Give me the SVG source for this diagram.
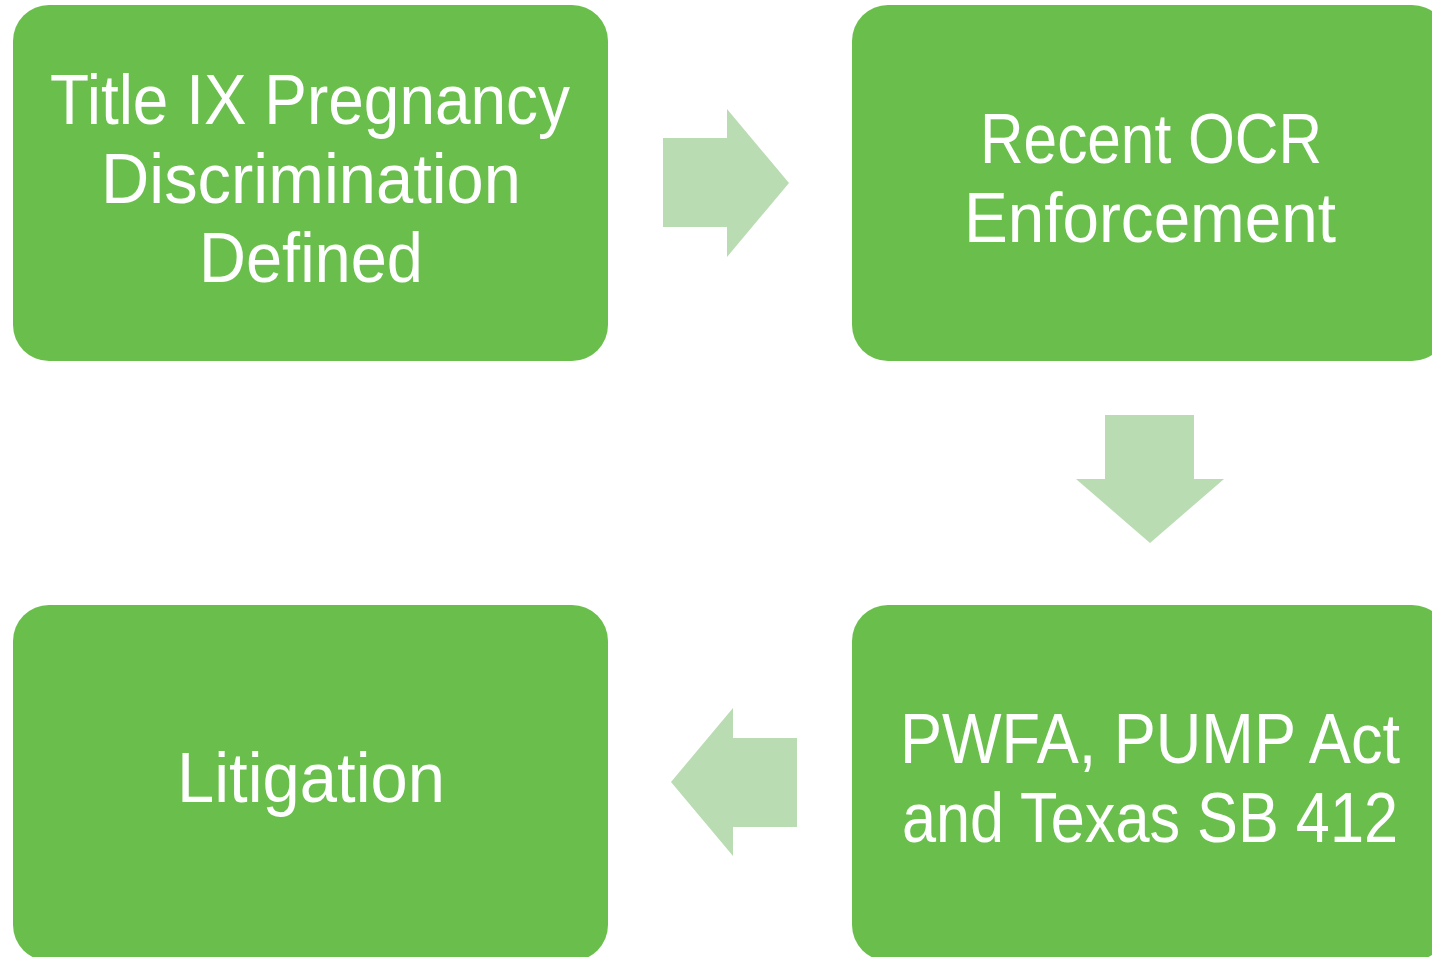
<svg xmlns="http://www.w3.org/2000/svg" width="1432" height="957" viewBox="0 0 1432 957">
<style>
.box{fill:#6ABF4C}
.arrow{fill:#BADCB3}
.lbl{font-family:"Liberation Sans",Arial,sans-serif;font-size:70px;fill:#FFFFFF;text-anchor:middle}
</style>
<rect width="1432" height="957" fill="#FFFFFF"/>
<g id="connectors">
<polygon class="arrow" points="663,138 727,138 727,109 789,183 727,257 727,227 663,227"/>
<polygon class="arrow" points="1105,415 1194,415 1194,479 1224,479 1150,543 1076,479 1105,479"/>
<polygon class="arrow" points="797,738 733,738 733,708 671,782 733,856 733,827 797,827"/>
</g>
<g id="node1">
<rect class="box" x="13" y="5" width="595" height="356" rx="36" ry="36"/>
<text class="lbl" x="310" y="124" textLength="520" lengthAdjust="spacingAndGlyphs">Title IX Pregnancy</text>
<text class="lbl" x="311" y="203" textLength="420" lengthAdjust="spacingAndGlyphs">Discrimination</text>
<text class="lbl" x="311" y="282" textLength="224" lengthAdjust="spacingAndGlyphs">Defined</text>
</g>
<g id="node2">
<rect class="box" x="852" y="5" width="596" height="356" rx="36" ry="36"/>
<text class="lbl" x="1151" y="163" textLength="342" lengthAdjust="spacingAndGlyphs">Recent OCR</text>
<text class="lbl" x="1150" y="242" textLength="372" lengthAdjust="spacingAndGlyphs">Enforcement</text>
</g>
<g id="node3">
<rect class="box" x="852" y="605" width="596" height="356" rx="36" ry="36"/>
<text class="lbl" x="1150" y="763" textLength="500" lengthAdjust="spacingAndGlyphs">PWFA, PUMP Act</text>
<text class="lbl" x="1150" y="842" textLength="496" lengthAdjust="spacingAndGlyphs">and Texas SB 412</text>
</g>
<g id="node4">
<rect class="box" x="13" y="605" width="595" height="356" rx="36" ry="36"/>
<text class="lbl" x="311" y="802" textLength="268" lengthAdjust="spacingAndGlyphs">Litigation</text>
</g>
</svg>
